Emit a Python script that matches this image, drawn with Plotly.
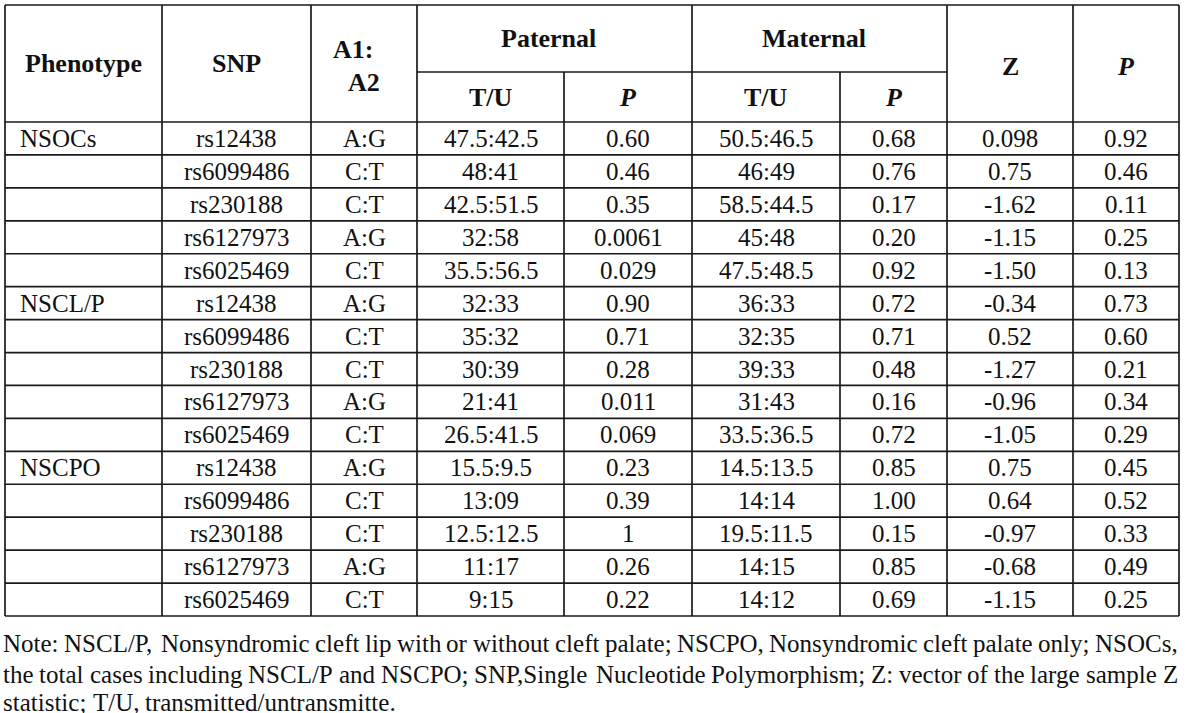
import plotly.graph_objects as go

# ---------------- data ----------------
phenotype = ["NSOCs", "", "", "", "", "NSCL/P", "", "", "", "", "NSCPO", "", "", "", ""]
snp = ["rs12438", "rs6099486", "rs230188", "rs6127973", "rs6025469",
       "rs12438", "rs6099486", "rs230188", "rs6127973", "rs6025469",
       "rs12438", "rs6099486", "rs230188", "rs6127973", "rs6025469"]
alleles = ["A:G", "C:T", "C:T", "A:G", "C:T",
           "A:G", "C:T", "C:T", "A:G", "C:T",
           "A:G", "C:T", "C:T", "A:G", "C:T"]
pat_tu = ["47.5:42.5", "48:41", "42.5:51.5", "32:58", "35.5:56.5",
          "32:33", "35:32", "30:39", "21:41", "26.5:41.5",
          "15.5:9.5", "13:09", "12.5:12.5", "11:17", "9:15"]
pat_p = ["0.60", "0.46", "0.35", "0.0061", "0.029",
         "0.90", "0.71", "0.28", "0.011", "0.069",
         "0.23", "0.39", "1", "0.26", "0.22"]
mat_tu = ["50.5:46.5", "46:49", "58.5:44.5", "45:48", "47.5:48.5",
          "36:33", "32:35", "39:33", "31:43", "33.5:36.5",
          "14.5:13.5", "14:14", "19.5:11.5", "14:15", "14:12"]
mat_p = ["0.68", "0.76", "0.17", "0.20", "0.92",
         "0.72", "0.71", "0.48", "0.16", "0.72",
         "0.85", "1.00", "0.15", "0.85", "0.69"]
z_vals = ["0.098", "0.75", "-1.62", "-1.15", "-1.50",
          "-0.34", "0.52", "-1.27", "-0.96", "-1.05",
          "0.75", "0.64", "-0.97", "-0.68", "-1.15"]
p_vals = ["0.92", "0.46", "0.11", "0.25", "0.13",
          "0.73", "0.60", "0.21", "0.34", "0.29",
          "0.45", "0.52", "0.33", "0.49", "0.25"]

note_lines = [
    "Note: NSCL/P, Nonsyndromic cleft lip with or without cleft palate; NSCPO, Nonsyndromic cleft palate only; NSOCs,",
    "the total cases including NSCL/P and NSCPO; SNP,Single Nucleotide Polymorphism; Z: vector of the large sample Z",
    "statistic; T/U, transmitted/untransmitte.",
]

# ---------------- layout geometry ----------------
W, H = 1200, 713
FONT = "Liberation Serif, Times New Roman, serif"
FS = 25
HFS = 26
COLOR = "#111111"
LINE = dict(color="#1a1a1a", width=1.7)

xcols = [5, 162, 311, 417, 564, 692, 840, 947, 1073, 1179]
y_top, y_mid, y_head = 5, 72, 122
y_bot = 616
nrows = len(snp)
row_h = (y_bot - y_head) / nrows

fig = go.Figure()
shapes = []
ann = []


def hline(y, x0, x1):
    shapes.append(dict(type="line", xref="x", yref="y", x0=x0, x1=x1, y0=y, y1=y, line=LINE))


def vline(x, y0, y1):
    shapes.append(dict(type="line", xref="x", yref="y", x0=x, x1=x, y0=y0, y1=y1, line=LINE))


def text(x, y, s, size=FS, xanchor="center"):
    ann.append(dict(x=x, y=y, xref="x", yref="y", text=s, showarrow=False,
                    xanchor=xanchor, yanchor="middle",
                    font=dict(family=FONT, size=size, color=COLOR)))


# lines
hline(y_top, xcols[0], xcols[-1])
hline(y_mid, xcols[3], xcols[7])
hline(y_head, xcols[0], xcols[-1])
for i in range(1, nrows + 1):
    hline(y_head + i * row_h, xcols[0], xcols[-1])
for i, x in enumerate(xcols):
    if i in (4, 6):
        vline(x, y_mid, y_bot)
    else:
        vline(x, y_top, y_bot)

# header
cen = [(xcols[i] + xcols[i + 1]) / 2 for i in range(len(xcols) - 1)]
hy = (y_top + y_head) / 2
text(cen[0], hy, "<b>Phenotype</b>", HFS)
text(cen[1], hy, "<b>SNP</b>", HFS)
text(cen[2] - 11, hy - 14, "<b>A1:</b>", HFS)
text(cen[2], hy + 19, "<b>A2</b>", HFS)
g1 = (y_top + y_mid) / 2
g2 = (y_mid + y_head) / 2
text((xcols[3] + xcols[5]) / 2 - 6, g1, "<b>Paternal</b>", HFS)
text((xcols[5] + xcols[7]) / 2 - 6, g1, "<b>Maternal</b>", HFS)
text(cen[3], g2, "<b>T/U</b>", HFS)
text(cen[4], g2, "<b><i>P</i></b>", HFS)
text(cen[5], g2, "<b>T/U</b>", HFS)
text(cen[6], g2, "<b><i>P</i></b>", HFS)
text(cen[7], hy + 3, "<b>Z</b>", HFS)
text(cen[8], hy + 3, "<b><i>P</i></b>", HFS)

# body
cols = [snp, alleles, pat_tu, pat_p, mat_tu, mat_p, z_vals, p_vals]
for r in range(nrows):
    yc = y_head + (r + 0.5) * row_h
    if phenotype[r]:
        text(18, yc, phenotype[r], FS, xanchor="left")
    for c, col in enumerate(cols):
        text(cen[c + 1], yc, col[r], FS)

# note text, justified with Times metrics
TW = {' ': 250, '!': 333, ',': 250, '-': 333, '.': 250, '/': 278, ':': 278, ';': 278,
      'A': 722, 'B': 667, 'C': 667, 'D': 722, 'E': 611, 'F': 556, 'G': 722, 'H': 722, 'I': 333,
      'J': 389, 'K': 722, 'L': 611, 'M': 889, 'N': 722, 'O': 722, 'P': 556, 'Q': 722, 'R': 667,
      'S': 556, 'T': 611, 'U': 722, 'V': 722, 'W': 944, 'X': 722, 'Y': 722, 'Z': 611,
      'a': 444, 'b': 500, 'c': 444, 'd': 500, 'e': 444, 'f': 333, 'g': 500, 'h': 500, 'i': 278,
      'j': 278, 'k': 500, 'l': 278, 'm': 778, 'n': 500, 'o': 500, 'p': 500, 'q': 500, 'r': 333,
      's': 389, 't': 278, 'u': 500, 'v': 500, 'w': 722, 'x': 500, 'y': 500, 'z': 444}


def wwidth(s, size):
    return sum(TW.get(ch, 500) for ch in s) * size / 1000.0


NFS = 25
nx0, nx1 = 1, 1176
note_y = [643, 674, 702]
for li, line in enumerate(note_lines):
    words = line.split(" ")
    if li < len(note_lines) - 1:
        total = sum(wwidth(w, NFS) for w in words)
        gap = (nx1 - nx0 - total) / (len(words) - 1)
    else:
        gap = wwidth(" ", NFS)
    x = nx0
    for w in words:
        text(x, note_y[li], w, NFS, xanchor="left")
        x += wwidth(w, NFS) + gap

fig.update_layout(
    width=W, height=H,
    margin=dict(l=0, r=0, t=0, b=0),
    paper_bgcolor="white", plot_bgcolor="white",
    xaxis=dict(range=[0, W], visible=False, fixedrange=True),
    yaxis=dict(range=[H, 0], visible=False, fixedrange=True),
    shapes=shapes, annotations=ann, showlegend=False,
)
fig.write_html("out.html", config={"displayModeBar": False},
               post_script="document.body.style.margin='0px';")
